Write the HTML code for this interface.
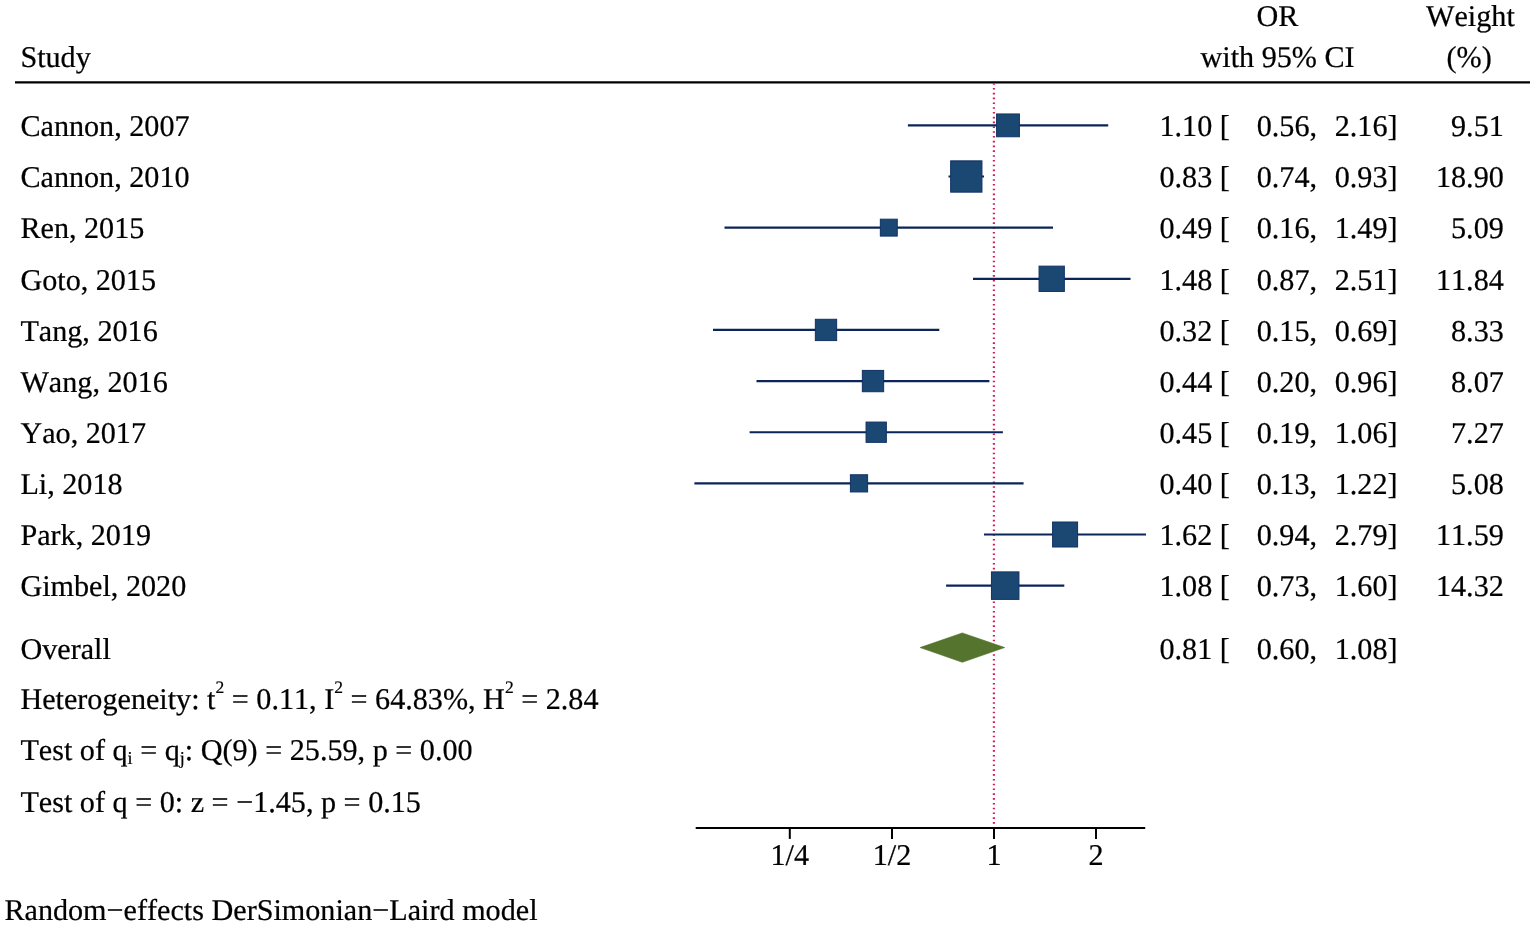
<!DOCTYPE html>
<html lang="en">
<head>
<meta charset="utf-8">
<title>Forest plot</title>
<style>
html,body{margin:0;padding:0;background:#fff;}
body{width:1535px;height:925px;overflow:hidden;}
svg{display:block;}
text{font-family:"Liberation Serif","Times New Roman",Times,serif;font-size:30.16px;fill:#000;stroke:#000;stroke-width:0.22px;white-space:pre;font-kerning:none;font-variant-ligatures:none;text-rendering:geometricPrecision;}
.sup{font-size:17.5px;}.sub{font-size:18px;}
.e{text-anchor:end;}
.m{text-anchor:middle;}
</style>
</head>
<body>
<svg xmlns="http://www.w3.org/2000/svg" width="1535" height="925" viewBox="0 0 1535 925">
<rect x="0" y="0" width="1535" height="925" fill="#ffffff"/>
<text x="20.4" y="67.0">Study</text>
<text class="m" x="1277.5" y="25.8">OR</text>
<text class="m" x="1277.6" y="67.0">with 95% CI</text>
<text class="m" x="1470.4" y="25.8">Weight</text>
<text class="m" x="1469.2" y="67.0">(%)</text>
<line x1="15" y1="82.3" x2="1530" y2="82.3" stroke="#000" stroke-width="2.3"/>
<line x1="993.9" y1="83.2" x2="993.9" y2="823.8" stroke="#d0225a" stroke-width="2.2" stroke-dasharray="1.6 3.198"/>
<text x="20.4" y="136.2">Cannon, 2007</text>
<line x1="907.9" y1="125.4" x2="1108.2" y2="125.4" stroke="#0b2459" stroke-width="2.15"/>
<rect x="996.60" y="113.96" width="22.80" height="22.80" fill="#1b4872" stroke="#103264" stroke-width="1"/>
<text x="1159.5" y="136.2">1.10 [</text>
<text x="1256.7" y="136.2">0.56,</text>
<text x="1334.7" y="136.2">2.16]</text>
<text class="e" x="1503.8" y="136.2">9.51</text>
<text x="20.4" y="187.3">Cannon, 2010</text>
<line x1="948.5" y1="176.5" x2="984.0" y2="176.5" stroke="#0b2459" stroke-width="2.15"/>
<rect x="950.65" y="160.85" width="31.30" height="31.30" fill="#1b4872" stroke="#103264" stroke-width="1"/>
<text x="1159.5" y="187.3">0.83 [</text>
<text x="1256.7" y="187.3">0.74,</text>
<text x="1334.7" y="187.3">0.93]</text>
<text class="e" x="1503.8" y="187.3">18.90</text>
<text x="20.4" y="238.4">Ren, 2015</text>
<line x1="724.5" y1="227.6" x2="1053.0" y2="227.6" stroke="#0b2459" stroke-width="2.15"/>
<rect x="880.35" y="219.19" width="16.90" height="16.90" fill="#1b4872" stroke="#103264" stroke-width="1"/>
<text x="1159.5" y="238.4">0.49 [</text>
<text x="1256.7" y="238.4">0.16,</text>
<text x="1334.7" y="238.4">1.49]</text>
<text class="e" x="1503.8" y="238.4">5.09</text>
<text x="20.4" y="289.6">Goto, 2015</text>
<line x1="973.0" y1="278.8" x2="1130.5" y2="278.8" stroke="#0b2459" stroke-width="2.15"/>
<rect x="1039.05" y="266.14" width="25.30" height="25.30" fill="#1b4872" stroke="#103264" stroke-width="1"/>
<text x="1159.5" y="289.6">1.48 [</text>
<text x="1256.7" y="289.6">0.87,</text>
<text x="1334.7" y="289.6">2.51]</text>
<text class="e" x="1503.8" y="289.6">11.84</text>
<text x="20.4" y="340.7">Tang, 2016</text>
<line x1="713.0" y1="329.9" x2="939.3" y2="329.9" stroke="#0b2459" stroke-width="2.15"/>
<rect x="815.35" y="319.28" width="21.30" height="21.30" fill="#1b4872" stroke="#103264" stroke-width="1"/>
<text x="1159.5" y="340.7">0.32 [</text>
<text x="1256.7" y="340.7">0.15,</text>
<text x="1334.7" y="340.7">0.69]</text>
<text class="e" x="1503.8" y="340.7">8.33</text>
<text x="20.4" y="391.9">Wang, 2016</text>
<line x1="756.5" y1="381.1" x2="989.4" y2="381.1" stroke="#0b2459" stroke-width="2.15"/>
<rect x="862.35" y="370.42" width="21.30" height="21.30" fill="#1b4872" stroke="#103264" stroke-width="1"/>
<text x="1159.5" y="391.9">0.44 [</text>
<text x="1256.7" y="391.9">0.20,</text>
<text x="1334.7" y="391.9">0.96]</text>
<text class="e" x="1503.8" y="391.9">8.07</text>
<text x="20.4" y="443.0">Yao, 2017</text>
<line x1="749.6" y1="432.2" x2="1002.9" y2="432.2" stroke="#0b2459" stroke-width="2.15"/>
<rect x="866.05" y="422.06" width="20.30" height="20.30" fill="#1b4872" stroke="#103264" stroke-width="1"/>
<text x="1159.5" y="443.0">0.45 [</text>
<text x="1256.7" y="443.0">0.19,</text>
<text x="1334.7" y="443.0">1.06]</text>
<text class="e" x="1503.8" y="443.0">7.27</text>
<text x="20.4" y="494.2">Li, 2018</text>
<line x1="694.4" y1="483.4" x2="1023.6" y2="483.4" stroke="#0b2459" stroke-width="2.15"/>
<rect x="850.40" y="474.75" width="17.20" height="17.20" fill="#1b4872" stroke="#103264" stroke-width="1"/>
<text x="1159.5" y="494.2">0.40 [</text>
<text x="1256.7" y="494.2">0.13,</text>
<text x="1334.7" y="494.2">1.22]</text>
<text class="e" x="1503.8" y="494.2">5.08</text>
<text x="20.4" y="545.3">Park, 2019</text>
<line x1="984.0" y1="534.5" x2="1146.0" y2="534.5" stroke="#0b2459" stroke-width="2.15"/>
<rect x="1052.60" y="522.00" width="25.00" height="25.00" fill="#1b4872" stroke="#103264" stroke-width="1"/>
<text x="1159.5" y="545.3">1.62 [</text>
<text x="1256.7" y="545.3">0.94,</text>
<text x="1334.7" y="545.3">2.79]</text>
<text class="e" x="1503.8" y="545.3">11.59</text>
<text x="20.4" y="596.4">Gimbel, 2020</text>
<line x1="946.1" y1="585.6" x2="1064.3" y2="585.6" stroke="#0b2459" stroke-width="2.15"/>
<rect x="991.45" y="571.89" width="27.50" height="27.50" fill="#1b4872" stroke="#103264" stroke-width="1"/>
<text x="1159.5" y="596.4">1.08 [</text>
<text x="1256.7" y="596.4">0.73,</text>
<text x="1334.7" y="596.4">1.60]</text>
<text class="e" x="1503.8" y="596.4">14.32</text>
<text x="20.4" y="658.6">Overall</text>
<polygon points="920.1,647.56 962.3,632.96 1004.7,647.56 962.3,662.26" fill="#55752f" stroke="#4c6c28" stroke-width="0.6"/>
<text x="1159.5" y="658.6">0.81 [</text>
<text x="1256.7" y="658.6">0.60,</text>
<text x="1334.7" y="658.6">1.08]</text>
<text x="20.4" y="709.4">Heterogeneity: t<tspan class="sup" dy="-16">2</tspan><tspan dy="16"> = 0.11, I</tspan><tspan class="sup" dy="-16">2</tspan><tspan dy="16"> = 64.83%, H</tspan><tspan class="sup" dy="-16">2</tspan><tspan dy="16"> = 2.84</tspan></text>
<text x="20.4" y="760.4">Test of q<tspan class="sub" dy="4">i</tspan><tspan dy="-4"> = q</tspan><tspan class="sub" dy="4">j</tspan><tspan dy="-4">: Q(9) = 25.59, p = 0.00</tspan></text>
<text x="20.4" y="812">Test of q = 0: z = −1.45, p = 0.15</text>
<line x1="695.7" y1="828" x2="1145.2" y2="828" stroke="#000" stroke-width="2"/>
<line x1="789.8" y1="828" x2="789.8" y2="838.9" stroke="#000" stroke-width="2"/>
<text class="m" x="789.8" y="865.3">1/4</text>
<line x1="892.0" y1="828" x2="892.0" y2="838.9" stroke="#000" stroke-width="2"/>
<text class="m" x="892.0" y="865.3">1/2</text>
<line x1="994.0" y1="828" x2="994.0" y2="838.9" stroke="#000" stroke-width="2"/>
<text class="m" x="994.0" y="865.3">1</text>
<line x1="1096.0" y1="828" x2="1096.0" y2="838.9" stroke="#000" stroke-width="2"/>
<text class="m" x="1096.0" y="865.3">2</text>
<text x="4.4" y="919.8">Random−effects DerSimonian−Laird model</text>
</svg>
</body>
</html>
